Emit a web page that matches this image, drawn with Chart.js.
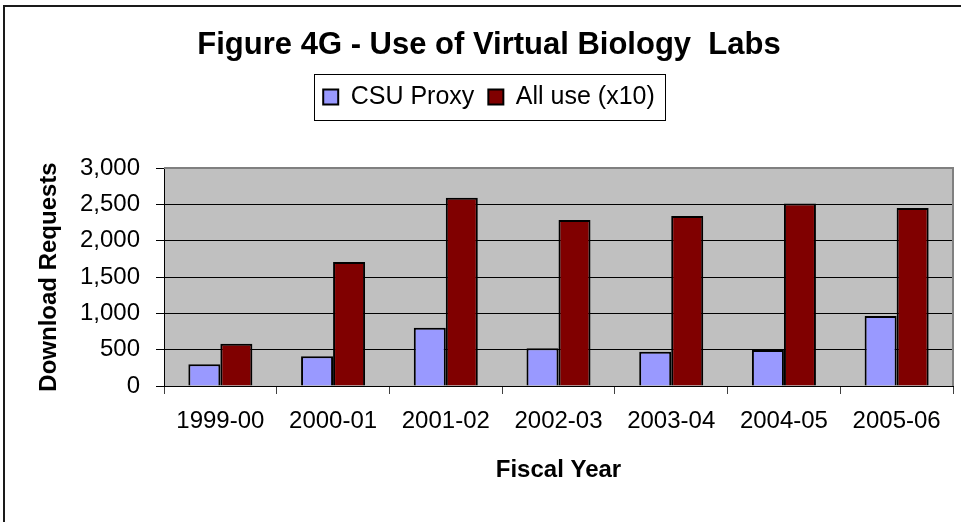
<!DOCTYPE html>
<html>
<head>
<meta charset="utf-8">
<script src="https://cdn.jsdelivr.net/npm/chart.js@4"></script>
<style>
html,body{margin:0;padding:0;background:#fff;overflow:hidden}
#wrap{width:961px;height:522px;position:relative}
</style>
</head>
<body>
<div id="wrap"><canvas id="c"></canvas></div>
<script>
// ---- data ----
const categories = ['1999-00','2000-01','2001-02','2002-03','2003-04','2004-05','2005-06'];
const csuProxy   = [300, 410, 800, 520, 470, 495, 965];
const allUseX10  = [580, 1705, 2590, 2285, 2340, 2510, 2450];
const seriesNames = ['CSU Proxy', 'All use (x10)'];
const yMin = 0, yMax = 3000, yStep = 500;
const chartTitle = 'Figure 4G - Use of Virtual Biology  Labs';
const xTitle = 'Fiscal Year';
const yTitle = 'Download Requests';

const FONT = "'Liberation Sans', Arial, Helvetica, sans-serif";
const fmt = new Intl.NumberFormat('en-US');

const framePlugin = {
  id: 'frame',
  beforeLayout(chart) {
    const lg = chart.legend;
    if (lg && !lg._patched) {
      const orig = lg.fit.bind(lg);
      lg.fit = function () { orig(); this.height += 48.5; };
      lg._patched = true;
    }
  },
  beforeDraw(chart) {
    const {ctx, chartArea: a} = chart;
    ctx.save();
    ctx.fillStyle = '#ffffff';
    ctx.fillRect(0, 0, chart.width, chart.height);
    ctx.fillStyle = '#C0C0C0';
    ctx.fillRect(a.left, a.top, a.right - a.left, a.bottom - a.top);
    ctx.restore();
  },
  afterDraw(chart) {
    const {ctx, chartArea: a} = chart;
    ctx.save();
    // outer chart frame (left and top visible)
    ctx.strokeStyle = '#1a1a1a';
    ctx.lineWidth = 2;
    ctx.beginPath();
    ctx.moveTo(4, chart.height + 5);
    ctx.lineTo(4, 6);
    ctx.lineTo(chart.width + 5, 6);
    ctx.stroke();
    // plot area grey border top & right
    ctx.strokeStyle = '#808080';
    ctx.lineWidth = 2;
    ctx.beginPath();
    ctx.moveTo(a.left, a.top);
    ctx.lineTo(a.right, a.top);
    ctx.lineTo(a.right, a.bottom);
    ctx.stroke();
    // legend border
    const hb = chart.legend && chart.legend.legendHitBoxes;
    if (hb && hb.length) {
      const l = Math.min(...hb.map(h => h.left)) - 9.5;
      const r = Math.max(...hb.map(h => h.left + h.width)) + 10;
      const t = hb[0].top - 10.7;
      const b = hb[0].top + hb[0].height + 10.5;
      ctx.strokeStyle = '#000';
      ctx.lineWidth = 1;
      ctx.strokeRect(Math.round(l) + 0.5, Math.round(t) + 0.5, Math.round(r - l), Math.round(b - t));
    }
    ctx.restore();
  }
};

new Chart(document.getElementById('c'), {
  type: 'bar',
  data: {
    labels: categories,
    datasets: [
      { label: seriesNames[0], data: csuProxy, backgroundColor: '#9999FF', borderColor: '#000000', borderWidth: 2 },
      { label: seriesNames[1], data: allUseX10, backgroundColor: '#800000', borderColor: '#000000', borderWidth: 2 }
    ]
  },
  options: {
    responsive: true,
    maintainAspectRatio: false,
    animation: false,
    devicePixelRatio: 1,
    layout: { padding: { left: 25, right: 8, top: 0, bottom: 0 } },
    datasets: { bar: { categoryPercentage: 0.568, barPercentage: 1.0 } },
    plugins: {
      tooltip: { enabled: false },
      title: {
        display: true,
        text: chartTitle,
        color: '#000',
        font: { family: FONT, size: 31, weight: 'bold' },
        padding: { top: 26.4, bottom: 6.9 }
      },
      legend: {
        display: true,
        position: 'top',
        labels: {
          color: '#000',
          boxWidth: 15,
          boxHeight: 15,
          padding: 14,
          font: { family: FONT, size: 25 }
        }
      }
    },
    scales: {
      x: {
        afterFit(scale) { scale.height = 136; },
        grid: { display: true, drawOnChartArea: false, drawTicks: true, tickLength: 8, color: '#404040', offset: true },
        border: { display: true, color: '#000', width: 1 },
        ticks: { color: '#000', padding: 13, maxRotation: 0, autoSkip: false, font: { family: FONT, size: 24 } },
        title: { display: true, text: xTitle, color: '#000', font: { family: FONT, size: 24, weight: 'bold' }, padding: { top: 0, bottom: 37.6 } }
      },
      y: {
        min: yMin,
        max: yMax,
        afterFit(scale) { scale.width = 139; },
        grid: {
          color: '#000',
          tickColor: '#000',
          drawTicks: true,
          tickLength: 8
        },
        border: { display: true, color: '#000', width: 1 },
        ticks: {
          stepSize: yStep,
          color: '#000',
          padding: 16,
          font: { family: FONT, size: 24 },
          callback: v => fmt.format(v)
        },
        title: { display: true, text: yTitle, color: '#000', font: { family: FONT, size: 24, weight: 'bold' }, padding: { top: 9.6, bottom: 0 } }
      }
    }
  },
  plugins: [framePlugin]
});
</script>
</body>
</html>
